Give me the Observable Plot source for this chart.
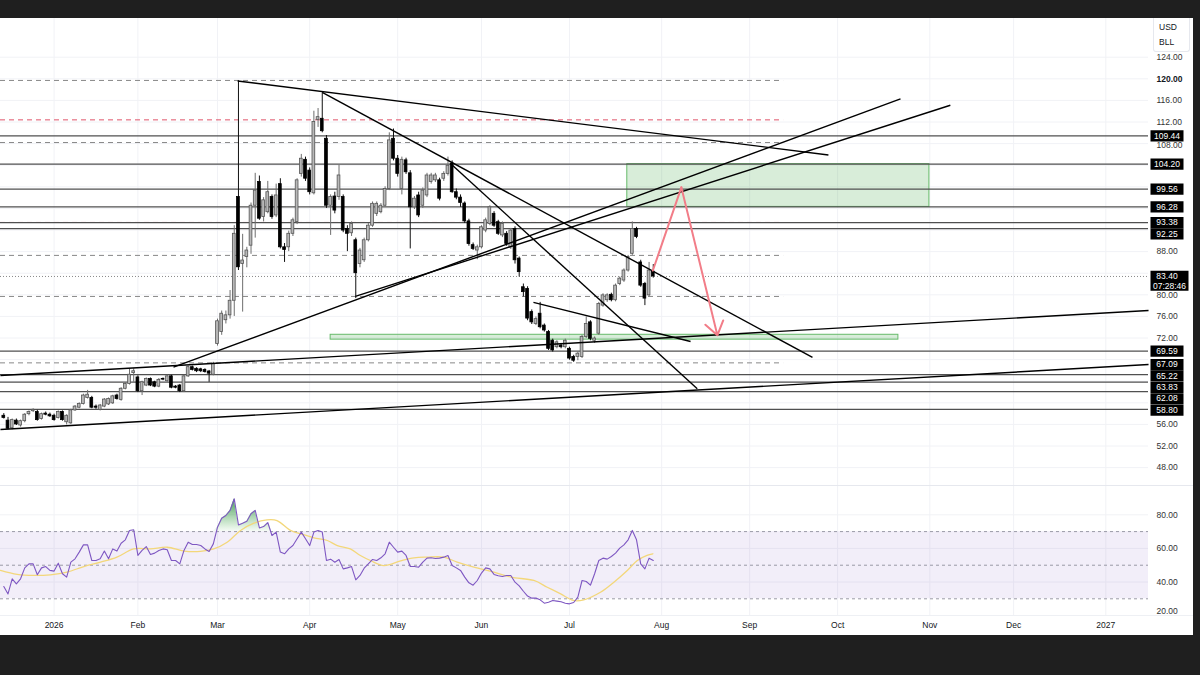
<!DOCTYPE html>
<html><head><meta charset="utf-8">
<script src="https://cdn.jsdelivr.net/npm/d3@7"></script>
<script src="https://cdn.jsdelivr.net/npm/@observablehq/plot@0.6"></script>
<style>
html,body{margin:0;padding:0;background:#1f1f1f;width:1200px;height:675px;overflow:hidden;font-family:"Liberation Sans",Arial,sans-serif}
#chart{position:absolute;left:0;top:18px;width:1193px;height:617px;background:#fff;overflow:hidden}
#price{position:absolute;left:0;top:0}
#rsi{position:absolute;left:0;top:468px}
#time{position:absolute;left:0;top:597px}
#sep1{position:absolute;left:0;top:467px;width:1193px;height:1px;background:#e6e8ee}
#sep2{position:absolute;left:0;top:597px;width:1193px;height:1px;background:#eef0f4}
#sym{position:absolute;left:1153px;top:0;width:37px;height:34px;background:#fff;border:1px solid #e6e8ee;border-top:none;border-radius:0 0 3px 3px;font-size:8.5px;color:#131722;line-height:15px;padding:2px 0 0 5px;box-sizing:border-box}
svg{overflow:hidden}
</style></head>
<body>
<div id="chart">
  <div id="price"></div>
  <div id="sep1"></div>
  <div id="rsi"></div>
  <div id="sep2"></div>
  <div id="time"></div>
  <div id="sym">USD<br>BLL</div>
</div>
<script>
// ---------- DATA ----------
// Trading-day index of each month start (0 = first session of 2026)
const monthTickIdx = [0,20,39,61,82,102,123,145,166,187,209,229,251];
const monthTickLabel = ["2026","Feb","Mar","Apr","May","Jun","Jul","Aug","Sep","Oct","Nov","Dec","2027"];
const firstBarIdx = -12;

const opens = [57.6,56.7,55.3,56.7,55.8,56.6,57.9,58.45,58.3,57.0,58.0,57.8,
 57.6,57.2,58.3,56.4,56.2,58.6,59.1,59.8,60.9,60.9,59.3,58.7,59.3,59.7,59.9,61.35,60.55,62.6,63.5,65.5,
 64.7,62.15,63.2,64.4,63.8,63.0,64.4,64.0,64.9,63.0,63.2,62.15,64.9,66.6,66.3,66.2,66.1,65.8,65.2,
 70.9,73.1,75.3,76.2,78.9,98.1,85.7,87.0,89.1,96.5,100.9,94.4,95.3,98.1,94.7,100.5,88.8,88.8,91.3,93.5,102.4,105.0,103.0,
 98.8,112.4,112.6,108.9,96.5,98.2,98.1,98.1,92.2,91.4,90.1,85.7,86.4,90.1,92.8,95.0,95.3,96.5,99.6,108.9,
 105.2,99.6,104.9,102.5,96.2,98.4,96.5,98.4,100.9,101.2,101.2,101.5,102.4,104.3,99.0,98.0,96.9,93.6,89.2,88.2,
 88.8,91.9,93.1,95.0,93.45,91.0,91.3,88.8,92.2,86.7,81.4,81.1,76.8,74.6,76.5,74.3,73.1,71.5,70.3,70.6,70.3,
 70.0,68.5,68.5,68.5,72.2,74.9,71.5,72.8,78.0,79.0,80.0,79.0,82.0,82.65,84.5,87.6,92.2,86.0,82.0,79.9,84.3];
const highs = [58.0,57.3,57.0,57.0,56.8,58.0,58.5,58.9,58.6,58.1,58.3,58.1,
 57.9,58.5,58.5,57.8,58.8,59.5,60.0,61.6,62.3,61.2,59.6,59.7,60.8,60.9,61.4,61.6,62.8,63.7,66.3,66.3,
 65.0,64.0,64.6,64.6,64.0,64.5,64.6,65.1,65.1,63.2,63.4,65.1,66.8,66.8,66.5,66.4,66.3,66.0,67.5,
 75.5,77.0,77.0,80.8,92.8,119.6,91.2,88.8,97.0,102.5,102.0,98.0,101.0,98.5,100.5,101.5,89.5,91.8,94.2,101.5,106.0,105.5,103.5,
 114.0,114.5,117.4,109.5,98.5,99.0,104.0,98.5,92.8,93.5,90.5,88.6,90.5,93.2,97.2,97.2,96.9,100.0,110.0,110.7,
 105.8,105.5,105.3,103.0,98.2,99.0,99.8,102.5,102.5,102.5,101.6,102.8,105.5,104.8,99.6,98.5,97.2,94.0,89.6,89.2,
 92.8,94.2,96.5,95.4,93.8,93.5,91.7,92.3,92.6,87.0,82.0,81.5,77.2,75.9,78.6,74.6,73.4,71.8,71.5,71.0,71.8,
 70.3,68.8,69.4,72.5,75.9,75.2,72.2,78.6,80.2,80.2,80.3,82.0,83.3,84.8,87.3,93.5,92.5,86.4,82.3,86.0,85.6];
const lows = [57.0,55.0,55.0,55.8,55.5,56.3,57.6,58.2,56.6,56.8,57.6,57.3,
 56.6,57.0,56.6,55.9,56.0,58.4,58.9,59.6,60.7,58.9,58.8,58.5,59.1,59.5,59.7,60.5,60.3,62.4,63.3,63.8,
 61.9,61.35,63.0,63.0,62.8,62.8,64.1,63.8,62.6,62.6,61.9,61.9,64.7,65.9,65.6,65.6,65.5,63.8,65.0,
 70.5,72.5,74.6,75.5,76.0,84.5,76.8,85.0,87.5,90.5,93.8,93.5,95.0,94.0,94.3,88.5,86.0,88.0,90.8,93.0,101.8,101.0,98.5,
 98.5,111.0,110.0,96.0,91.0,95.0,97.5,91.5,88.0,90.8,79.3,85.0,86.0,89.8,92.5,94.5,95.0,96.2,99.3,104.8,
 101.8,98.5,102.3,88.5,95.8,94.3,96.0,98.0,100.5,100.8,97.4,101.0,102.0,98.8,97.6,96.2,93.2,89.0,88.2,86.5,
 88.5,91.5,92.8,92.5,91.0,90.6,89.0,88.4,85.7,83.3,79.6,75.2,74.5,74.3,73.7,73.1,69.7,69.4,70.0,70.0,70.0,
 67.9,67.5,67.8,68.2,71.9,71.5,71.0,72.5,77.7,78.6,78.7,78.7,81.7,82.3,84.2,87.3,90.4,81.4,78.0,79.6,83.1];
const closes = [57.2,55.2,56.8,56.0,56.6,57.8,58.3,58.7,56.8,57.9,57.8,57.5,
 56.8,58.3,56.8,57.6,58.6,59.3,59.8,61.35,61.5,59.1,59.1,59.5,60.6,60.7,61.2,60.7,62.6,63.5,65.2,65.85,
 62.15,63.8,64.4,63.2,63.0,64.25,64.3,64.9,62.8,62.8,62.15,64.9,66.6,66.1,65.85,65.85,65.7,65.4,67.2,
 75.1,76.5,76.2,78.9,91.3,85.1,86.35,88.2,96.5,99.3,94.1,97.5,99.0,94.4,98.4,88.8,88.3,91.3,93.8,101.2,105.2,101.5,99.0,
 112.0,112.9,110.3,96.5,98.1,95.6,102.1,91.9,91.3,93.1,84.0,88.2,90.1,92.8,96.85,96.85,96.5,99.6,108.6,105.2,
 102.4,105.0,102.7,96.2,97.8,94.7,99.3,102.1,102.1,102.1,97.8,102.4,103.9,99.0,98.0,97.0,93.6,89.4,88.5,88.8,
 92.5,93.8,96.2,92.8,91.3,93.1,89.4,91.9,86.4,84.2,80.5,75.6,74.9,75.5,74.0,73.4,70.0,69.7,71.2,70.3,71.5,
 68.2,67.8,69.1,72.2,74.6,71.85,71.9,78.3,79.9,79.9,79.0,81.7,83.0,84.5,87.0,92.2,90.7,81.7,79.3,84.5,83.4];

// RSI(14), one value per bar from firstBarIdx
const rsiValues = [37.3,32.9,41.9,38.9,41.9,48.4,50.8,50.8,44.3,48.4,49.2,46.9,
 46.5,51.2,44.9,42.9,51.8,53.8,57.8,62.1,62.1,52.8,52.8,53.8,58.4,53.8,59.7,58.4,63.1,65.1,70.7,71.1,
 55.8,58.8,61.1,56.4,57.2,58.8,59.7,59.2,52.8,52.8,50.8,58.8,63.7,62.3,62.3,61.7,59.7,58.2,62.7,
 72.6,78.0,79.6,82.6,89.5,74.0,75.0,76.2,80.6,82.6,72.2,73.0,75.4,67.7,69.7,57.8,56.8,59.7,61.7,65.7,69.7,65.7,61.7,
 69.7,70.7,69.7,52.8,53.6,51.8,53.4,47.8,48.4,49.2,41.3,43.9,48.2,50.8,53.4,52.8,54.4,56.8,63.7,60.7,
 57.8,58.4,55.8,49.2,49.2,48.8,51.8,54.2,54.4,54.0,54.2,54.8,55.8,49.8,48.4,46.9,42.9,39.5,38.1,40.9,
 45.3,48.4,47.8,44.5,43.7,43.3,43.9,43.9,39.9,37.7,34.5,31.6,30.4,30.4,29.4,27.4,28.0,29.0,28.6,28.2,27.4,
 27.0,27.8,31.0,40.9,40.3,38.1,44.9,52.8,54.2,53.6,55.2,57.2,60.2,62.1,65.1,70.7,65.1,50.8,47.8,54.2,52.8];

// RSI moving average, read at sample bars
const maIdx = [-12.8,-8.8,-4.8,-0.9,3.1,7.1,11.1,15.0,19.0,23.0,27.0,31.0,34.9,38.1,41.3,44.5,47.7,50.8,53.2,56.4,58.8,62.0,65.2,67.6,70.7,73.1,75.5,78.7,82.7,85.9,89.0,93.0,96.2,100.2,105.0,109.0,114.5,117.7,120.9,124.0,126.4,130.4,133.6,136.8,139.2,141.5,142.9];
const maValues = [46.9,44.5,43.9,44.3,45.9,49.2,51.8,54.8,59.7,59.7,60.7,58.4,58.2,59.7,63.7,70.7,75.0,77.0,76.6,70.7,68.7,66.3,64.7,61.7,59.7,55.8,52.8,49.8,52.6,54.4,54.8,54.8,51.8,48.8,45.9,42.9,40.9,36.9,32.9,29.0,29.4,33.9,39.9,46.9,52.8,55.8,56.8];

// Horizontal levels
const solidLevels = [109.44,104.20,99.56,96.28,93.38,92.25,69.59,65.22,63.83,62.08,58.80];
const dashedGrayLevels = [119.7,108.2,87.3,79.7,67.4];
const dashedRedLevels = [112.4,93.4];
const dashedEndIdx = 174.1;
const axisLabelLevels = [109.44,104.20,99.56,96.28,93.38,92.25,69.59,67.09,65.22,63.83,62.08,58.80];
const lastPrice = 83.40;
const countdown = "07:28:46";
const priceTicks = [124,120,116,112,108,104,100,96,92,88,84,80,76,72,68,64,60,56,52,48];
const rsiTicks = [80,60,40,20];

// Trend lines [x1 idx, y1 price, x2 idx, y2 price]
const trendX1 = [43.8,64.0,94.6,28.5,71.9,-12.8,-12.8,114.4];
const trendY1 = [119.6,117.5,104.3,66.6,79.7,65.06,55.06,78.6];
const trendX2 = [184.8,181.0,153.5,202.0,213.9,261.2,261.2,151.9];
const trendY2 = [105.9,68.4,62.6,116.3,115.1,77.09,67.09,71.35];

// Zones [x1,x2,yTop,yBottom]
const zoneX1 = [136.8,66.0];
const zoneX2 = [208.9,201.5];
const zoneTop = [104.20,72.6];
const zoneBottom = [96.28,71.7];

// Projection path
const projX = [142.9,149.7,158.3];
const projY = [84.5,99.9,72.5];

// ---------- LAYOUT ----------
const W = 1193, RIGHT = 45;
const xDomain = [-12.79, 261.19];
const priceDomain = [44.69, 131.17];
const rsiDomain = [20.06, 96.85];
const PH = 467, RH = 129;
const FONT = "'Liberation Sans', Arial, sans-serif";

const candles = opens.map((o,k)=>({i:firstBarIdx+k,o,h:highs[k],l:lows[k],c:closes[k],up:closes[k]>=o}));
const rsiRows = rsiValues.map((r,k)=>({i:firstBarIdx+k,r}));
const maRows = maIdx.map((i,k)=>({i,r:maValues[k]}));
const trends = trendX1.map((x1,k)=>({x1,y1:trendY1[k],x2:trendX2[k],y2:trendY2[k]}));
const zones = zoneX1.map((x1,k)=>({x1,x2:zoneX2[k],y1:zoneTop[k],y2:zoneBottom[k]}));
const proj = projX.map((x,k)=>({x,y:projY[k]}));

// label collision avoidance (top-down push) in pixel space
const yPix = d3.scaleLinear(priceDomain,[PH,0]);
const LH = 11.4, BH = 5.6;
let labels = axisLabelLevels.map(v=>({v,py:yPix(v)})).sort((a,b)=>a.py-b.py);
for (let k=1;k<labels.length;k++){ if (labels[k].py < labels[k-1].py+LH) labels[k].py = labels[k-1].py+LH; }
labels.forEach(d=>d.y=yPix.invert(d.py));

// axis ticks: hide those covered by a label box, nudge those partly covered
const boxes = labels.map(d=>[d.py-BH,d.py+BH]).concat([[yPix(lastPrice)-5.8,yPix(lastPrice)+14.2]]);
const TH = 3.6;
const tickRows = [];
priceTicks.forEach(t=>{
  let py = yPix(t), hidden=false;
  for (const [a,b] of boxes){
    if (py>=a-1 && py<=b+1){ hidden=true; break; }
    if (py<a && py+TH>a) py = a-TH-0.3;
    else if (py>b && py-TH<b) py = b+TH+0.3;
  }
  if(!hidden) tickRows.push({t, y:yPix.invert(py)});
});

const boxSym = {draw(ctx){ ctx.moveTo(-16,-BH); ctx.lineTo(17,-BH); ctx.lineTo(17,BH); ctx.lineTo(-16,BH); ctx.closePath(); }};
const lastSym = {draw(ctx){ ctx.moveTo(-16,-5.8); ctx.lineTo(22,-5.8); ctx.lineTo(22,14.2); ctx.lineTo(-16,14.2); ctx.closePath(); }};

const bw = 0.33;
const pricePlot = Plot.plot({
  width: W, height: PH, marginLeft:0, marginRight:RIGHT, marginTop:0, marginBottom:0,
  x:{domain:xDomain, axis:null}, y:{domain:priceDomain, axis:null},
  style:{fontFamily:FONT, background:"transparent"},
  marks:[
    Plot.ruleY(priceTicks,{stroke:"#f1f2f6"}),
    Plot.ruleX(monthTickIdx,{stroke:"#f1f2f6"}),
    Plot.rect(zones,{x1:"x1",x2:"x2",y1:"y1",y2:"y2",fill:"#4caf50",fillOpacity:0.22,stroke:"#66bb6a",strokeWidth:1}),
    Plot.ruleY(dashedGrayLevels,{x1:xDomain[0],x2:dashedEndIdx,stroke:"#888",strokeWidth:1,strokeDasharray:"5,4"}),
    Plot.ruleY(dashedRedLevels,{x1:xDomain[0],x2:dashedEndIdx,stroke:"#e0536a",strokeWidth:1,strokeDasharray:"5,4"}),
    Plot.ruleY(solidLevels,{stroke:"#505050",strokeWidth:1.3}),
    Plot.ruleY([lastPrice],{stroke:"#888",strokeDasharray:"1,2"}),
    Plot.ruleX(candles,{x:"i",y1:"l",y2:"h",stroke:d=>d.up?"#6e6e6e":"#111",strokeWidth:1}),
    Plot.rect(candles,{x1:d=>d.i-bw,x2:d=>d.i+bw,y1:"o",y2:"c",fill:d=>d.up?"#b8b8b8":"#000",stroke:d=>d.up?"#555":"#000",strokeWidth:0.8}),
    Plot.link(trends,{x1:"x1",y1:"y1",x2:"x2",y2:"y2",stroke:"#000",strokeWidth:1.4}),
    Plot.line(proj.slice(0,2),{x:"x",y:"y",stroke:"#f27d88",strokeWidth:2}),
    Plot.arrow([{x1:proj[1].x,y1:proj[1].y,x2:proj[2].x,y2:proj[2].y}],{x1:"x1",y1:"y1",x2:"x2",y2:"y2",stroke:"#f27d88",strokeWidth:2,headLength:12,headAngle:70}),
    // axis tick labels
    Plot.text(tickRows.filter(d=>d.t!==120),{y:"y",text:d=>d.t.toFixed(2),frameAnchor:"right",dx:8,textAnchor:"start",fontSize:8.5,fill:"#333"}),
    Plot.text(tickRows.filter(d=>d.t===120),{y:"y",text:d=>d.t.toFixed(2),frameAnchor:"right",dx:8,textAnchor:"start",fontSize:8.5,fontWeight:"bold",fill:"#131722"}),
    // level label boxes
    Plot.dot(labels,{y:"y",frameAnchor:"right",dx:18,symbol:boxSym,fill:"#000",stroke:"none"}),
    Plot.text(labels,{y:"y",text:d=>d.v.toFixed(2),frameAnchor:"right",dx:18.5,textAnchor:"middle",fontSize:8.5,fill:"#fff"}),
    Plot.dot([lastPrice],{y:d=>d,frameAnchor:"right",dx:18,symbol:lastSym,fill:"#000",stroke:"none"}),
    Plot.text([lastPrice],{y:d=>d,text:d=>d.toFixed(2),frameAnchor:"right",dx:18.5,textAnchor:"middle",fontSize:8.5,fill:"#fff"}),
    Plot.text([lastPrice],{y:d=>d,text:()=>countdown,frameAnchor:"right",dx:21,dy:10,textAnchor:"middle",fontSize:8.5,fill:"#fff"})
  ]
});
document.getElementById("price").appendChild(pricePlot);

const rsiPlot = Plot.plot({
  width: W, height: RH, marginLeft:0, marginRight:RIGHT, marginTop:0, marginBottom:0,
  x:{domain:xDomain, axis:null}, y:{domain:rsiDomain, axis:null},
  style:{fontFamily:FONT, background:"transparent"},
  marks:[
    Plot.ruleX(monthTickIdx,{stroke:"#f1f2f6"}),
    Plot.ruleY([80,60,40],{stroke:"#f1f2f6"}),
    Plot.rect([0],{x1:xDomain[0],x2:xDomain[1],y1:30,y2:70,fill:"#7e57c2",fillOpacity:0.1}),
    Plot.ruleY([70,50,30],{stroke:"#9a9aa6",strokeDasharray:"3,3",strokeWidth:1}),
    Plot.areaY(rsiRows,{x:"i",y1:70,y2:d=>Math.max(d.r,70),fill:"url(#rsiGreen)"}),
    Plot.line(maRows,{x:"i",y:"r",stroke:"#f3d77a",strokeWidth:1.3,curve:"catmull-rom"}),
    Plot.line(rsiRows,{x:"i",y:"r",stroke:"#7e57c2",strokeWidth:1.1}),
    Plot.text(rsiTicks.filter(t=>t>20),{y:d=>d,text:d=>d.toFixed(2),frameAnchor:"right",dx:8,textAnchor:"start",fontSize:8.5,fill:"#333"}),
    Plot.text(rsiTicks.filter(t=>t===20),{y:d=>d,text:d=>d.toFixed(2),frameAnchor:"right",dx:8,dy:-4,textAnchor:"start",fontSize:8.5,fill:"#333"})
  ]
});
const defs = d3.select(rsiPlot).insert("defs",":first-child");
const grad = defs.append("linearGradient").attr("id","rsiGreen").attr("x1",0).attr("y1",0).attr("x2",0).attr("y2",1);
grad.append("stop").attr("offset","0%").attr("stop-color","#2e8b47").attr("stop-opacity",0.9);
grad.append("stop").attr("offset","100%").attr("stop-color","#4caf50").attr("stop-opacity",0.05);
document.getElementById("rsi").appendChild(rsiPlot);

const timePlot = Plot.plot({
  width: W, height: 20, marginLeft:0, marginRight:RIGHT, marginTop:0, marginBottom:0,
  x:{domain:xDomain, axis:null}, y:{axis:null},
  style:{fontFamily:FONT, background:"transparent"},
  marks:[
    Plot.text(monthTickIdx.map((i,k)=>({i,t:monthTickLabel[k]})),{x:"i",text:"t",frameAnchor:"middle",fontSize:8.5,fill:"#131722",
      fontWeight:d=>/^\d/.test(d.t)?"bold":"normal"})
  ]
});
document.getElementById("time").appendChild(timePlot);
</script>
</body></html>
